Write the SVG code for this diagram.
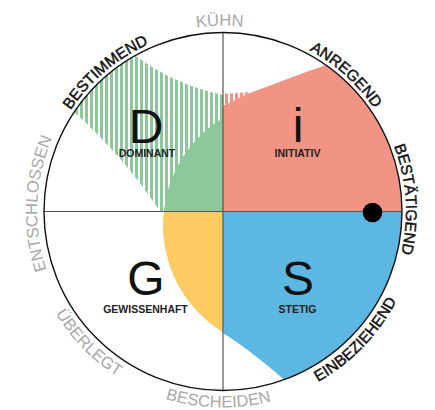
<svg xmlns="http://www.w3.org/2000/svg" width="435" height="410" viewBox="0 0 435 410">
<style>
.big{font-family:"Liberation Sans",Arial,sans-serif;font-size:48px;fill:#111;text-anchor:middle}
.small{font-family:"Liberation Sans",Arial,sans-serif;font-size:10.5px;font-weight:bold;fill:#222;text-anchor:middle}
.outb{font-family:"Liberation Sans",Arial,sans-serif;font-size:15.5px;fill:#111;stroke:#111;stroke-width:0.45}
.outg{font-family:"Liberation Sans",Arial,sans-serif;font-size:16.5px;fill:#a8a8a8}
.axis{stroke:#555;stroke-width:1.2;fill:none}
</style>
<defs>
<pattern id="hg" width="5" height="10" patternUnits="userSpaceOnUse"><rect x="0" y="0" width="3" height="10" fill="#8dc89b"/></pattern>
<pattern id="hr" width="5" height="10" patternUnits="userSpaceOnUse"><rect x="0" y="0" width="3" height="10" fill="#f29483"/></pattern>
<path id="pBest" d="M50.8,149.5 A183,183 0 0 1 190.6,31.4"/>
<path id="pAnr" d="M261,32.5 A183,183 0 0 1 397,155"/>
<path id="pBestae" d="M375.1,109.7 A183,183 0 0 1 387.2,292.3"/>
<path id="pEinb" d="M276.7,399 A195,195 0 0 0 412.2,258.7"/>
<path id="pKuehn" d="M127.2,52.1 A187,187 0 0 1 313.2,48.8"/>
<path id="pEnts" d="M58,297.4 A187,187 0 0 1 66.1,111.6"/>
<path id="pUeber" d="M33.2,260.2 A196,196 0 0 0 170.3,400.3"/>
<path id="pBesch" d="M120.9,378.8 A196,196 0 0 0 316.8,383.6"/>
</defs>
<rect width="435" height="410" fill="#fff"/>
<g id="D">
<path d="M74.2,112 A179,179 0 0 1 135,55.6 Q175,85 223,95 L223,211.5 L160,211.5 Q125,158 74.2,112 Z" fill="url(#hg)"/>
<path d="M223,211.5 L163.7,211.5 A126,126 0 0 1 223,117.7 Z" fill="#8dc89b"/>
<text class="big" x="146" y="143">D</text>
<text class="small" x="147" y="157">DOMINANT</text>
</g>
<g id="I">
<path d="M223,94 L250,92 L247,94.5 L223,106 Z" fill="url(#hr)"/>
<path d="M223,211.5 L223,106 L247,94 C275,84 300,74 326,65.1 A179,179 0 0 1 402,211.5 Z" fill="#f29483"/>
<text class="big" x="298" y="142">i</text>
<text class="small" x="297.5" y="157">INITIATIV</text>
</g>
<g id="S">
<path d="M223,211.5 L402,211.5 A179,179 0 0 1 284.2,379.7 Q250,350 223,333 Z" fill="#5db7e3"/>
<text class="big" x="298" y="295">S</text>
<text class="small" x="297.5" y="313">STETIG</text>
</g>
<g id="G">
<path d="M223,211.5 L223,332.3 A126,126 0 0 1 163.7,211.5 Z" fill="#fdcb62"/>
<text class="big" x="146" y="295">G</text>
<text class="small" x="145.5" y="313">GEWISSENHAFT</text>
</g>
<g id="connectors">
<line class="axis" x1="44" y1="211.5" x2="402" y2="211.5"/>
<line class="axis" x1="223" y1="32.5" x2="223" y2="390.5"/>
<circle cx="223" cy="211.5" r="179" fill="none" stroke="#111" stroke-width="1.4"/>
<circle cx="372.5" cy="212.5" r="9.8" fill="#000"/>
</g>
<g id="labels">
<text class="outb"><textPath href="#pBest" startOffset="50%" text-anchor="middle">BESTIMMEND</textPath></text>
<text class="outb"><textPath href="#pAnr" startOffset="50%" text-anchor="middle">ANREGEND</textPath></text>
<text class="outb"><textPath href="#pBestae" startOffset="50%" text-anchor="middle">BESTÄTIGEND</textPath></text>
<text class="outb"><textPath href="#pEinb" startOffset="50%" text-anchor="middle">EINBEZIEHEND</textPath></text>
<text class="outg"><textPath href="#pKuehn" startOffset="50%" text-anchor="middle">KÜHN</textPath></text>
<text class="outg"><textPath href="#pEnts" startOffset="50%" text-anchor="middle">ENTSCHLOSSEN</textPath></text>
<text class="outg"><textPath href="#pUeber" startOffset="50%" text-anchor="middle">ÜBERLEGT</textPath></text>
<text class="outg"><textPath href="#pBesch" startOffset="50%" text-anchor="middle">BESCHEIDEN</textPath></text>
</g>
</svg>
